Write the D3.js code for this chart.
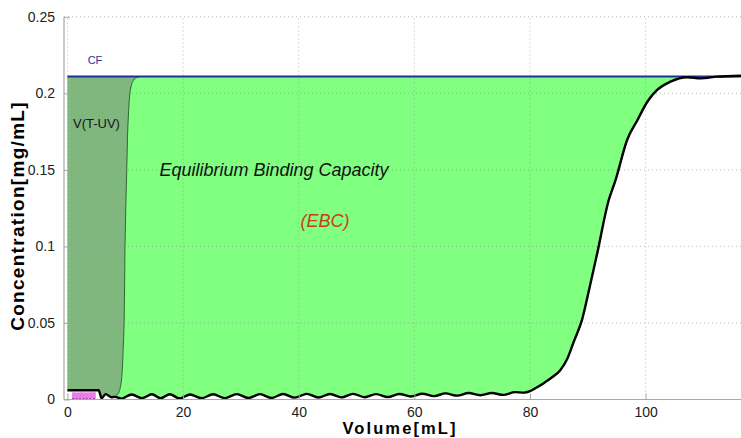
<!DOCTYPE html>
<html><head><meta charset="utf-8">
<script src="https://cdn.jsdelivr.net/npm/d3@7"></script>
<style>body{margin:0;background:#fff}svg{display:block}</style>
</head><body>
<script>
// ---- data ----
const cfValue = 0.211;
const blackX = [0,0.5,5.4,5.9,6.6,7.6,8.2,9.3,11.1,12.9,14.6,16.1,17.7,19.4,21.2,23.2,25.2,27.2,29.3,31.3,33.3,35.3,37.3,39.3,41.4,43.4,45.4,47.4,49.4,51.4,53.4,55.4,57.4,59.4,61.4,63.4,65.4,67.4,69.4,71.4,73.4,75.4,77.4,79.0,80.0,81.0,82.5,84.0,85.2,86.5,87.6,89.0,90.3,91.6,93.6,94.8,96.8,98.6,100.3,102.0,104.3,107.2,109.5,112.4,116.5];
const blackY = [0.006,0.006,0.006,0.0008,0.0035,0.0015,0.0017,0.0006,0.0033,0.0008,0.0034,0.0008,0.0034,0.0007,0.0033,0.0008,0.0034,0.0009,0.0035,0.0010,0.0035,0.0010,0.0036,0.0012,0.0037,0.0013,0.0036,0.0014,0.0037,0.0015,0.0035,0.0016,0.0036,0.0020,0.0038,0.0022,0.0040,0.0025,0.0042,0.0028,0.0042,0.0030,0.0048,0.0045,0.0055,0.0075,0.011,0.015,0.019,0.027,0.038,0.052,0.073,0.095,0.130,0.1433,0.1695,0.1826,0.1945,0.2022,0.2076,0.2105,0.2098,0.2109,0.2115];
const uvX = [12.5,11.8,11.2,10.8,10.6,10.25,9.95,9.8,9.6,9.4,9.2,8.8,8.2];
const uvY = [0.211,0.210,0.207,0.2,0.19,0.15,0.1,0.05,0.03,0.015,0.009,0.004,0.0017];
const pinkX = [0.8,1.6,2.4,3.2,4.0,4.9];
const pinkTop = [0.0048,0.0045,0.0048,0.0045,0.0048,0.0047];
const pinkBottom = [0.0006,0.0004,0.0006,0.0004,0.0006,0.0006];
const xTicks = [0,20,40,60,80,100];
const yTicks = [0,0.05,0.1,0.15,0.2,0.25];
const yTickLabels = ["0","0.05","0.1","0.15","0.2","0.25"];

// ---- chart ----
const W = 741, H = 438;
const svg = d3.select("body").append("svg").attr("width", W).attr("height", H);
const x = d3.scaleLinear().domain([-0.6, 116.5]).range([64, 741]);
const y = d3.scaleLinear().domain([0, 0.25]).range([399.5, 16.8]);
const font = "'Liberation Sans', Arial, sans-serif";

const black = blackX.map((v, i) => [v, blackY[i]]);

// green area (EBC)
svg.append("path")
  .datum(black)
  .attr("fill", "#80ff80")
  .attr("d", d3.area().x(d => x(d[0])).y0(d => y(d[1])).y1(y(cfValue)).curve(d3.curveMonotoneX));

// grey area V(T-UV)
const uv = uvX.map((v, i) => [v, uvY[i]]);
const leftBlack = black.filter(d => d[0] < 8.2).reverse();
const greyPoly = [[0, cfValue]].concat(uv, leftBlack);
svg.append("path")
  .attr("fill", "#7fb77f")
  .attr("d", d3.line().x(d => x(d[0])).y(d => y(d[1])).curve(d3.curveLinearClosed)(greyPoly));
svg.append("path")
  .attr("fill", "none").attr("stroke", "#2e6a2e").attr("stroke-width", 1)
  .attr("d", d3.line().x(d => x(d[0])).y(d => y(d[1])).curve(d3.curveMonotoneY)(uv.slice().reverse()));

// pink area
const pink = pinkX.map((v, i) => [v, pinkTop[i], pinkBottom[i]]);
svg.append("path").datum(pink)
  .attr("fill", "#e67ee6")
  .attr("d", d3.area().x(d => x(d[0])).y0(d => y(d[2])).y1(d => y(d[1])));
svg.append("path").datum(pink)
  .attr("fill", "none").attr("stroke", "#a530a5").attr("stroke-width", 1.2).attr("stroke-dasharray", "2,1.5")
  .attr("d", d3.line().x(d => x(d[0])).y(d => y(d[2])));

// grid
const grid = svg.append("g");
xTicks.forEach(t => grid.append("line")
  .attr("x1", x(t)).attr("x2", x(t)).attr("y1", y(0)).attr("y2", y(0.25))
  .attr("stroke", "#8a8a8a").attr("stroke-opacity", 0.6).attr("stroke-dasharray", "1,3"));
yTicks.forEach(t => grid.append("line")
  .attr("x1", x.range()[0]).attr("x2", W).attr("y1", y(t)).attr("y2", y(t))
  .attr("stroke", "#8a8a8a").attr("stroke-opacity", 0.6).attr("stroke-dasharray", "1,3"));

// CF line
svg.append("line")
  .attr("x1", x(0)).attr("x2", x(116.5)).attr("y1", y(cfValue)).attr("y2", y(cfValue))
  .attr("stroke", "#1f2f99").attr("stroke-width", 2);

// black breakthrough curve
svg.append("path").datum(black)
  .attr("fill", "none").attr("stroke", "#000").attr("stroke-width", 2.4).attr("stroke-linejoin", "round")
  .attr("d", d3.line().x(d => x(d[0])).y(d => y(d[1])).curve(d3.curveMonotoneX));

// axes
const xAxis = d3.axisBottom(x).tickValues(xTicks).tickSize(-6).tickPadding(8).tickFormat(d3.format("d"));
const gx = svg.append("g").attr("transform", `translate(0,${y(0)})`).call(xAxis);
const yAxis = d3.axisLeft(y).tickValues(yTicks).tickSize(-6).tickPadding(9).tickFormat((d, i) => yTickLabels[i]);
const gy = svg.append("g").attr("transform", `translate(${x.range()[0]},0)`).call(yAxis);
[gx, gy].forEach(g => {
  g.select(".domain").attr("stroke", "#a8a8a8").attr("stroke-width", 1.2);
  g.selectAll(".tick line").attr("stroke", "#a8a8a8");
  g.selectAll("text").attr("font-family", font).attr("font-size", 14).attr("fill", "#222");
});
gx.select(".domain").attr("d", `M${x.range()[0]},0H${W}`);
gy.select(".domain").attr("d", `M0,${y(0)}V${y(0.25)}`);

// annotations
svg.append("text").attr("x", 95).attr("y", 64).attr("text-anchor", "middle")
  .attr("font-family", font).attr("font-size", 11).attr("fill", "#1f2f99").text("CF");
svg.append("text").attr("x", 73).attr("y", 128)
  .attr("font-family", font).attr("font-size", 13).attr("fill", "#151515").text("V(T-UV)");
svg.append("text").attr("x", 274).attr("y", 176).attr("text-anchor", "middle")
  .attr("font-family", font).attr("font-size", 18).attr("font-style", "italic").attr("fill", "#111").text("Equilibrium Binding Capacity");
svg.append("text").attr("x", 325).attr("y", 227).attr("text-anchor", "middle")
  .attr("font-family", font).attr("font-size", 18).attr("font-style", "italic").attr("fill", "#c8401a").text("(EBC)");

// axis titles
svg.append("text").attr("x", 400).attr("y", 434).attr("text-anchor", "middle")
  .attr("font-family", font).attr("font-size", 16.5).attr("font-weight", "bold").attr("letter-spacing", 2.1).attr("fill", "#000").text("Volume[mL]");
svg.append("text").attr("transform", "translate(24,216) rotate(-90)").attr("text-anchor", "middle")
  .attr("font-family", font).attr("font-size", 19).attr("font-weight", "bold").attr("letter-spacing", 1.3).attr("fill", "#000").text("Concentration[mg/mL]");
</script>
</body></html>
